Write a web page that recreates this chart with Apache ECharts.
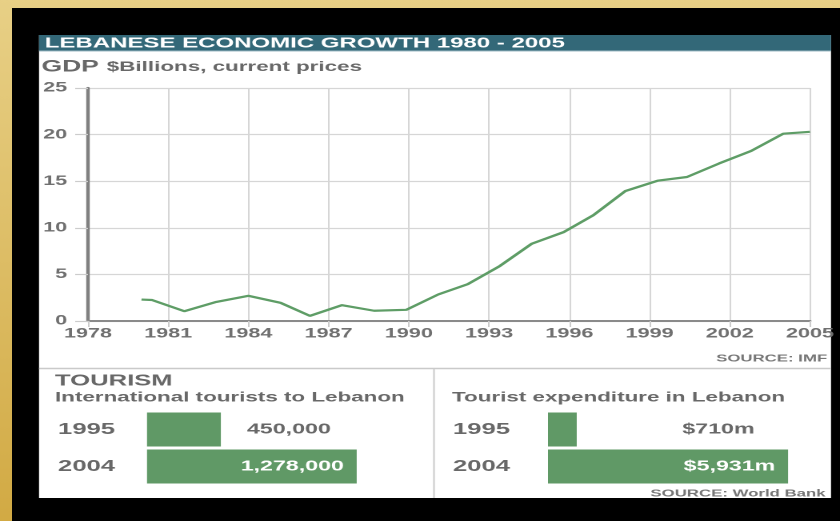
<!DOCTYPE html>
<html>
<head>
<meta charset="utf-8">
<title>Lebanese economic growth 1980 - 2005</title>
<script src="https://cdn.jsdelivr.net/npm/echarts@6/dist/echarts.min.js"></script>
<style>
  html, body { margin: 0; padding: 0; overflow: hidden; background: #e2c772; }
  /* the source graphic is a narrow picture stretched wide: draw narrow, then stretch */
  #main { width: 525px; height: 521px; transform: scaleX(1.6); transform-origin: 0 0; }
</style>
</head>
<body>
<div id="main"></div>
<script>
// GDP, $ billions, current prices (IMF)
var gdpYears = [1980, 1980.4, 1981.6, 1982.8, 1984, 1985.2, 1986.3, 1987.5, 1988.7, 1989.9, 1991.1,
                1992.2, 1993.4, 1994.6, 1995.8, 1996.9, 1998.1, 1999.3, 2000.4, 2001.6, 2002.8, 2004, 2005];
var gdpValues = [2.3, 2.25, 1.05, 2.05, 2.7, 1.95, 0.55, 1.7, 1.1, 1.2, 2.85,
                 3.95, 5.9, 8.3, 9.55, 11.35, 13.95, 15.05, 15.45, 16.9, 18.25, 20.1, 20.3];

// tourism (World Bank)
var tourYears = ['1995', '2004'];
var tourArrivals = [450000, 1278000];
var tourSpend = [710, 5931]; // $m

var FONT = '"Liberation Sans", Arial, sans-serif';
var GREY = '#686868';
var GREEN = '#609966';

function fmt(n) {
  return String(n).replace(/\B(?=(\d{3})+(?!\d))/g, ',');
}

// small bar: first value sits outside the bar, second one inside it
function barData(values, outsideGap, text) {
  return values.map(function(v, i) {
    var inside = i === values.length - 1;
    return {
      value: v,
      label: {
        show: true,
        position: inside ? 'insideRight' : 'right',
        distance: inside ? 8 : outsideGap,
        color: inside ? '#fff' : GREY,
        fontFamily: FONT,
        fontWeight: 'bold',
        fontSize: 14.5,
        formatter: function() { return text(v); }
      }
    };
  });
}

var chart = echarts.init(document.getElementById('main'), null, { devicePixelRatio: 2 });

chart.setOption({
  animation: false,
  backgroundColor: {
    type: 'linear', x: 0, y: 0, x2: 0, y2: 1,
    colorStops: [{ offset: 0, color: '#e8d086' }, { offset: 1, color: '#d2aa44' }]
  },
  graphic: [
    { type: 'rect', z: -10, shape: { x: 7.5, y: 8, width: 517.5, height: 513 }, style: { fill: '#000' } },
    { type: 'rect', z: -9, shape: { x: 24.4, y: 35, width: 495, height: 463 }, style: { fill: '#fff' } },
    { type: 'rect', z: -8, shape: { x: 24.4, y: 35, width: 495, height: 16 }, style: { fill: '#336878' } },
    { type: 'rect', z: -8, shape: { x: 24.4, y: 50.5, width: 495, height: 1 }, style: { fill: '#9dbac4' } },
    { type: 'line', z: -8, shape: { x1: 24.4, y1: 368.5, x2: 519.4, y2: 368.5 }, style: { stroke: '#cacaca', lineWidth: 1.5 } },
    { type: 'line', z: -8, shape: { x1: 271.25, y1: 369, x2: 271.25, y2: 498 }, style: { stroke: '#cacaca', lineWidth: 1 } }
  ],
  title: [
    {
      text: 'LEBANESE ECONOMIC GROWTH 1980 - 2005',
      left: 28, top: 36, padding: 0,
      textStyle: { color: '#fff', fontFamily: FONT, fontWeight: 'bold', fontSize: 15 }
    },
    {
      text: '{a|GDP} {b|$Billions, current prices}',
      left: 26, top: 58, padding: 0,
      textStyle: {
        rich: {
          a: { color: GREY, fontFamily: FONT, fontWeight: 'bold', fontSize: 16.5, lineHeight: 18 },
          b: { color: GREY, fontFamily: FONT, fontWeight: 'bold', fontSize: 14, lineHeight: 18 }
        }
      }
    },
    {
      text: 'SOURCE: IMF',
      right: 8, top: 353, padding: 0,
      textStyle: { color: '#777', fontFamily: FONT, fontWeight: 'bold', fontSize: 10.5 }
    },
    {
      text: 'TOURISM',
      left: 34.4, top: 373, padding: 0,
      textStyle: { color: GREY, fontFamily: FONT, fontWeight: 'bold', fontSize: 16 }
    },
    {
      text: 'International tourists to Lebanon',
      left: 34.4, top: 390.5, padding: 0,
      textStyle: { color: GREY, fontFamily: FONT, fontWeight: 'bold', fontSize: 14 }
    },
    {
      text: 'Tourist expenditure in Lebanon',
      left: 282.5, top: 390.5, padding: 0,
      textStyle: { color: GREY, fontFamily: FONT, fontWeight: 'bold', fontSize: 14 }
    },
    {
      text: 'SOURCE: World Bank',
      right: 9, top: 488, padding: 0,
      textStyle: { color: '#777', fontFamily: FONT, fontWeight: 'bold', fontSize: 10.5 }
    }
  ],
  grid: [
    { left: 55, right: 18.75, top: 88, bottom: 200 },
    { left: 91.9, width: 133.3, top: 411, height: 74 },
    { left: 342.5, width: 151.8, top: 411, height: 74 }
  ],
  xAxis: [
    {
      type: 'value', gridIndex: 0, min: 1978, max: 2005, interval: 3,
      axisLine: { show: true, onZero: false, lineStyle: { color: '#8a8a8a', width: 2 } },
      axisTick: { show: true, length: 6, lineStyle: { color: '#cccccc', width: 1 } },
      axisLabel: {
        color: '#707070', fontFamily: FONT, fontWeight: 'bold', fontSize: 13.5, margin: 6,
        showMinLabel: true, showMaxLabel: true,
        formatter: function(v) { return String(v); }
      },
      splitLine: { show: true, lineStyle: { color: '#d6d6d6', width: 1 } }
    },
    { type: 'value', gridIndex: 1, min: 0, max: 1300000, show: false },
    { type: 'value', gridIndex: 2, min: 0, max: 6000, show: false }
  ],
  yAxis: [
    {
      type: 'value', gridIndex: 0, min: 0, max: 25, interval: 5,
      axisLine: { show: true, lineStyle: { color: '#808080', width: 2.2 } },
      axisTick: { show: true, length: 8, lineStyle: { color: '#cccccc', width: 1.2 } },
      axisLabel: { color: '#707070', fontFamily: FONT, fontWeight: 'bold', fontSize: 13.5, margin: 13 },
      splitLine: { show: true, lineStyle: { color: '#d6d6d6', width: 1.3 } }
    },
    {
      type: 'category', gridIndex: 1, data: tourYears, inverse: true,
      axisLine: { show: false }, axisTick: { show: false },
      axisLabel: { color: GREY, fontFamily: FONT, fontWeight: 'bold', fontSize: 16, margin: 20 }
    },
    {
      type: 'category', gridIndex: 2, data: tourYears, inverse: true,
      axisLine: { show: false }, axisTick: { show: false },
      axisLabel: { color: GREY, fontFamily: FONT, fontWeight: 'bold', fontSize: 16, margin: 23.75 }
    }
  ],
  series: [
    {
      type: 'line', xAxisIndex: 0, yAxisIndex: 0, silent: true,
      showSymbol: false,
      lineStyle: { color: '#5e9d66', width: 2.2 },
      data: gdpYears.map(function(y, i) { return [y, gdpValues[i]]; })
    },
    {
      type: 'bar', xAxisIndex: 1, yAxisIndex: 1, silent: true,
      barWidth: 34, itemStyle: { color: GREEN },
      data: barData(tourArrivals, 16.3, function(v) { return fmt(v); })
    },
    {
      type: 'bar', xAxisIndex: 2, yAxisIndex: 2, silent: true,
      barWidth: 34, itemStyle: { color: GREEN },
      data: barData(tourSpend, 66, function(v) { return '$' + fmt(v) + 'm'; })
    }
  ]
});
</script>
</body>
</html>
